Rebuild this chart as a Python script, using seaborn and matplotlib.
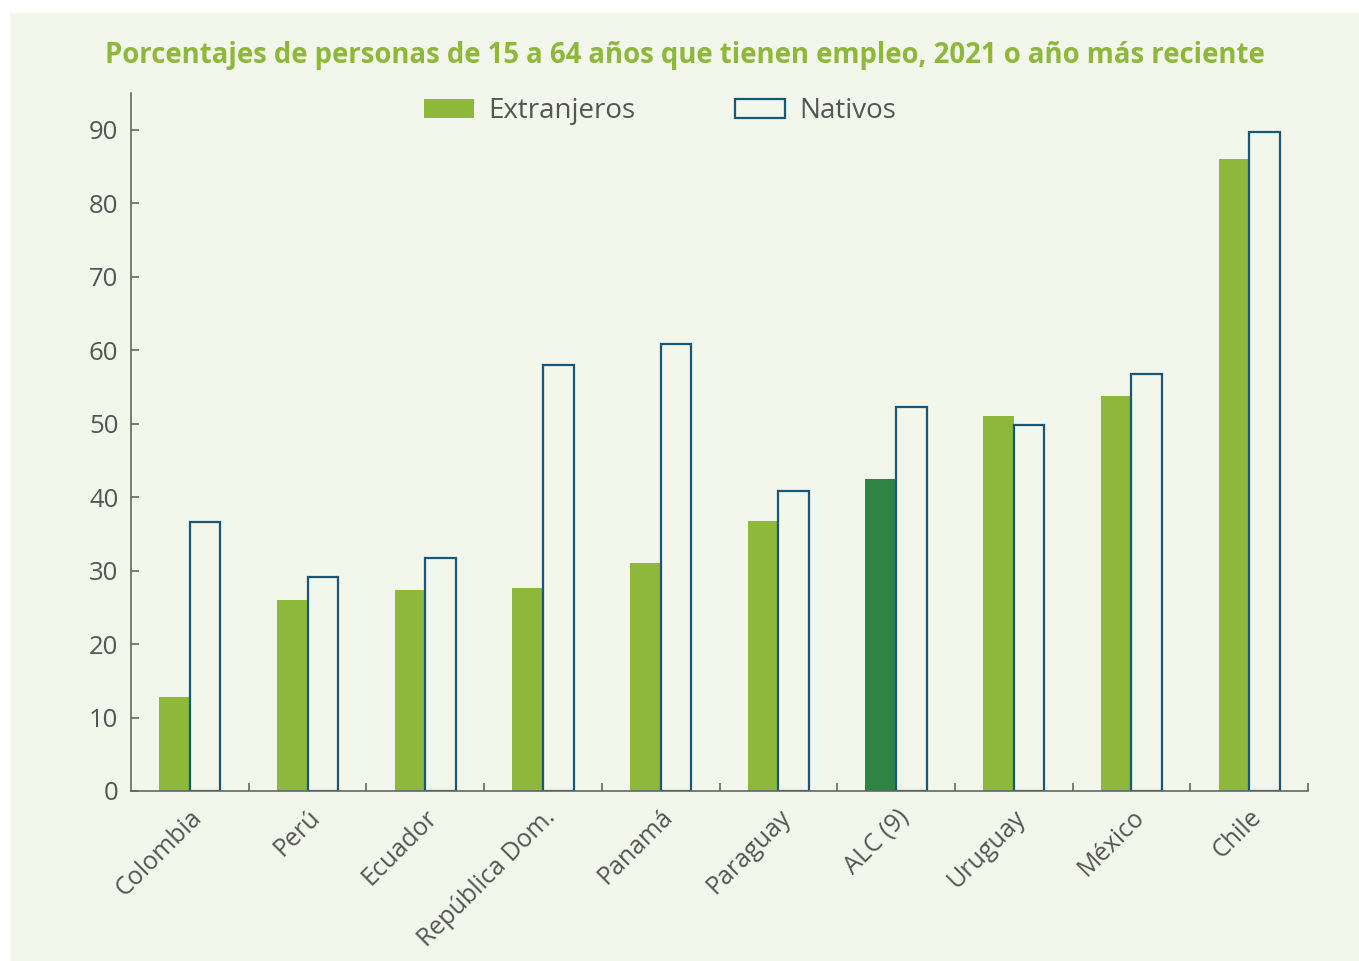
import numpy as np
import pandas as pd
import matplotlib
matplotlib.use("Agg")
import matplotlib.pyplot as plt
from matplotlib.patches import Patch, Rectangle
from matplotlib.ticker import FixedLocator
import seaborn as sns

# Data
paises = ["Colombia", "Perú", "Ecuador", "República Dom.", "Panamá",
          "Paraguay", "ALC (9)", "Uruguay", "México", "Chile"]
extranjeros = [12.8, 26.0, 27.4, 27.6, 31.0, 36.8, 42.5, 51.1, 53.7, 86.0]
nativos = [36.6, 29.1, 31.7, 58.0, 60.9, 40.8, 52.2, 49.8, 56.8, 89.7]
grupos = ["Extranjeros", "Nativos"]
titulo = "Porcentajes de personas de 15 a 64 años que tienen empleo, 2021 o año más reciente"

# colours
bg = "#F3F6EA"
verde = "#8DB83A"
verde_osc = "#2E8444"
azul = "#17587A"
gris = "#555555"

df = pd.DataFrame({
    "pais": paises * 2,
    "valor": extranjeros + nativos,
    "grupo": [grupos[0]] * len(paises) + [grupos[1]] * len(paises),
})

sns.set_style("white")
plt.rcParams["font.family"] = ["Open Sans", "DejaVu Sans"]

fig = plt.figure(figsize=(13.59, 9.61), dpi=100, facecolor="white")
fig.patches.append(Rectangle((10 / 1359, 0), 1, 1 - 13 / 961, transform=fig.transFigure,
                             facecolor=bg, edgecolor="none", zorder=-10))
ax = fig.add_axes([131 / 1359, 1 - 791 / 961, (1308 - 131) / 1359, (791 - 93) / 961])
ax.set_facecolor(bg)

sns.barplot(data=df, x="pais", y="valor", hue="grupo", order=paises, hue_order=grupos,
            palette=[verde, bg], saturation=1, width=0.52, legend=False, ax=ax)

for bar in ax.containers[0]:
    bar.set_edgecolor("none")
ax.containers[0][paises.index("ALC (9)")].set_facecolor(verde_osc)
for bar in ax.containers[1]:
    bar.set_facecolor(bg)
    bar.set_edgecolor(azul)
    bar.set_linewidth(1.6)

ax.set_xlim(-0.5, len(paises) - 0.5)
ax.set_ylim(0, 95)
ax.yaxis.set_major_locator(FixedLocator(np.arange(0, 91, 10)))
ax.xaxis.set_minor_locator(FixedLocator(np.arange(0.5, len(paises), 1)))

sns.despine(ax=ax)
for s in ["left", "bottom"]:
    ax.spines[s].set_color("#666666")
    ax.spines[s].set_linewidth(1.2)

ax.tick_params(axis="y", which="major", direction="in", length=6, width=1.2,
               color="#666666", labelsize=18.5, labelcolor=gris, pad=9, left=True)
ax.tick_params(axis="x", which="major", length=0, labelsize=18, labelcolor=gris, pad=10)
ax.tick_params(axis="x", which="minor", direction="in", length=6, width=1.2,
               color="#666666", bottom=True)
ax.set_xticks(range(len(paises)))
ax.set_xticklabels(paises, rotation=45, ha="right", va="top", rotation_mode="anchor")
ax.set_xlabel("")
ax.set_ylabel("")

handles = [Patch(facecolor=verde, edgecolor="none", label=grupos[0]),
           Patch(facecolor=bg, edgecolor=azul, linewidth=1.6, label=grupos[1])]
fig.legend(handles=handles, loc="center left", bbox_to_anchor=(424 / 1359, 1 - 111 / 961),
           ncol=2, frameon=False, fontsize=20, labelcolor=gris, handlelength=1.8,
           handleheight=0.68, columnspacing=3.6, handletextpad=0.5,
           borderpad=0, borderaxespad=0)

fig.text(685 / 1359, 1 - 55 / 961, titulo, ha="center", va="center",
         fontsize=19.8, fontweight="bold", color=verde)

fig.savefig("out.png", dpi=100, facecolor="white")
